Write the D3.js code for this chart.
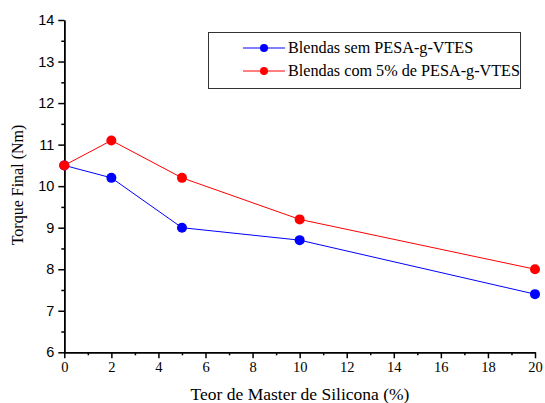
<!DOCTYPE html>
<html><head><meta charset="utf-8">
<script src="https://cdn.jsdelivr.net/npm/d3@7"></script>
<style>body{margin:0;background:#fff}svg{display:block}</style>
</head><body>
<script>
const xValues = [0, 2, 5, 10, 20];
const blueValues = [10.5, 10.2, 9.0, 8.7, 7.4];
const redValues = [10.5, 11.1, 10.2, 9.2, 8.0];
const seriesNames = ["Blendas sem PESA-g-VTES", "Blendas com 5% de PESA-g-VTES"];
const seriesColors = ["#0000ff", "#ff0000"];
const xTicks = [0,2,4,6,8,10,12,14,16,18,20];
const yTicks = [6,7,8,9,10,11,12,13,14];

const W = 545, H = 403;
const svg = d3.select("body").append("svg").attr("width", W).attr("height", H);
const x = d3.scaleLinear().domain([0, 20]).range([64.3, 535]);
const y = d3.scaleLinear().domain([6, 14]).range([352.3, 20]);

// x axis
const xa = svg.append("g").attr("transform", `translate(0,${y(6)})`)
  .call(d3.axisBottom(x).tickValues(xTicks).tickSize(6).tickPadding(3).tickSizeOuter(0));
xa.selectAll("text").attr("font-family", "Liberation Serif, Times New Roman, serif").attr("font-size", 14.5).attr("fill", "#000");
svg.append("g").attr("transform", `translate(0,${y(6)})`)
  .call(d3.axisBottom(x).tickValues(d3.range(1, 20, 2)).tickSize(3).tickFormat("").tickSizeOuter(0));
// y axis
const ya = svg.append("g").attr("transform", `translate(${x(0)},0)`)
  .call(d3.axisLeft(y).tickValues(yTicks).tickSize(6).tickPadding(4).tickSizeOuter(0));
ya.selectAll("text").attr("font-family", "Liberation Sans, Arial, sans-serif").attr("font-size", 14.5).attr("fill", "#000");
svg.append("g").attr("transform", `translate(${x(0)},0)`)
  .call(d3.axisLeft(y).tickValues(d3.range(6.5, 14, 1)).tickSize(3).tickFormat("").tickSizeOuter(0));
svg.selectAll(".domain, .tick line").attr("stroke", "#000").attr("stroke-width", 1.5);

// series
const series = [blueValues, redValues];
const line = d3.line().x((d, i) => x(xValues[i])).y(d => y(d));
series.forEach((vals, k) => {
  svg.append("path").datum(vals).attr("d", line).attr("fill", "none")
    .attr("stroke", seriesColors[k]).attr("stroke-width", 1);
});
series.forEach((vals, k) => {
  svg.selectAll(null).data(vals).enter().append("circle")
    .attr("cx", (d, i) => x(xValues[i])).attr("cy", d => y(d)).attr("r", 5)
    .attr("fill", seriesColors[k]);
});

// legend
svg.append("rect").attr("x", 208.5).attr("y", 32.5).attr("width", 312).attr("height", 56)
  .attr("fill", "#fff").attr("stroke", "#333").attr("stroke-width", 1);
seriesNames.forEach((name, k) => {
  const ly = 48 + k * 23;
  svg.append("line").attr("x1", 243).attr("x2", 285).attr("y1", ly).attr("y2", ly)
    .attr("stroke", seriesColors[k]).attr("stroke-width", 1);
  svg.append("circle").attr("cx", 264).attr("cy", ly).attr("r", 4).attr("fill", seriesColors[k]);
  svg.append("text").attr("x", 288).attr("y", ly + 5).text(name)
    .attr("font-family", "Liberation Serif, Times New Roman, serif").attr("font-size", 16.2).attr("fill", "#000");
});

// axis titles
svg.append("text").attr("x", 300).attr("y", 400).attr("text-anchor", "middle")
  .attr("font-family", "Liberation Serif, Times New Roman, serif").attr("font-size", 17.5)
  .text("Teor de Master de Silicona (%)");
svg.append("text").attr("transform", "translate(23,185) rotate(-90)").attr("text-anchor", "middle")
  .attr("font-family", "Liberation Serif, Times New Roman, serif").attr("font-size", 16)
  .text("Torque Final (Nm)");
</script>
</body></html>
